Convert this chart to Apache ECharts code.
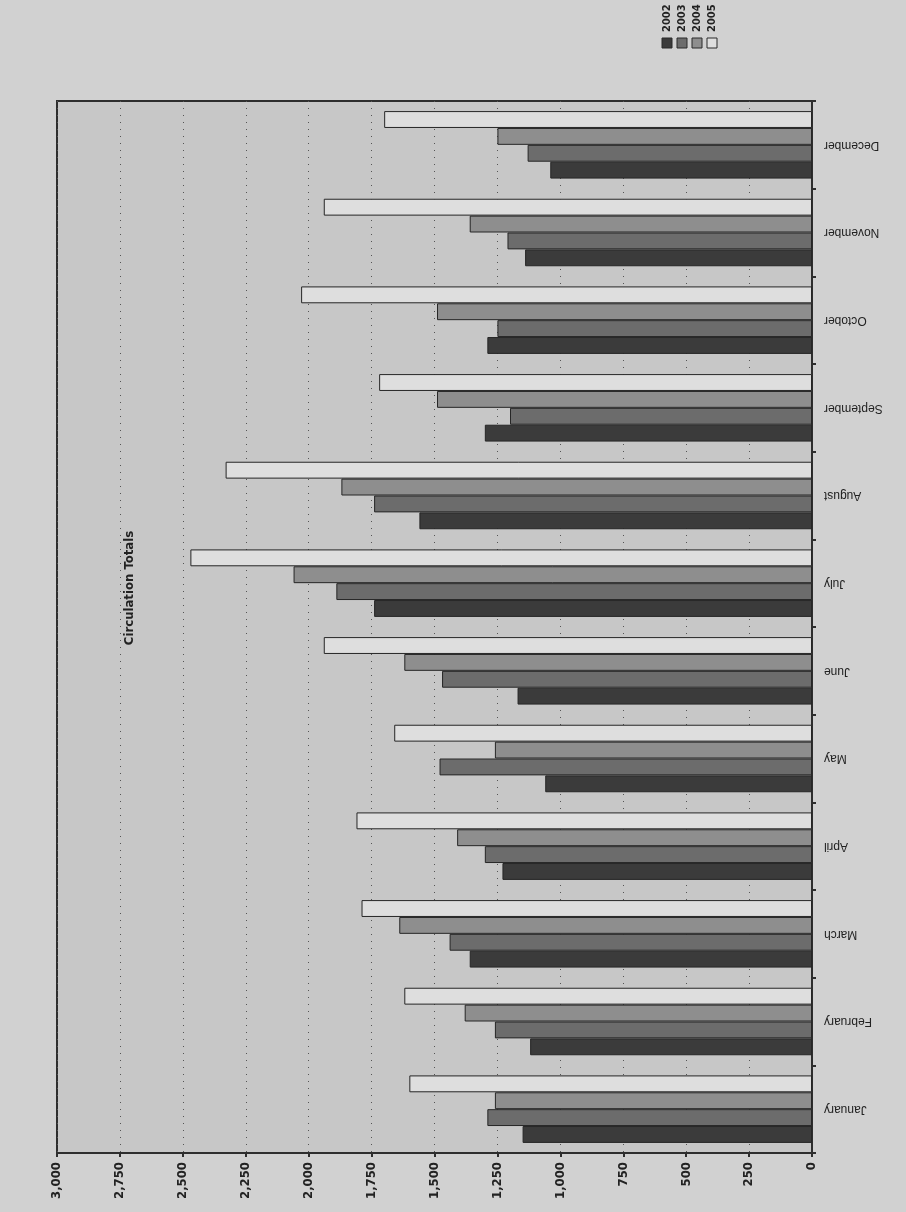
<!DOCTYPE html>
<html>
<head>
<meta charset="utf-8">
<title>Circulation Totals</title>
<script src="https://cdn.jsdelivr.net/npm/echarts@6/dist/echarts.min.js"></script>
<style>
  html, body { margin: 0; padding: 0; background: #d1d1d1; }
  #chart { width: 906px; height: 1212px; }
</style>
</head>
<body>
<div id="chart"></div>
<script>
// Monthly circulation totals, one series per year
const months = ['January', 'February', 'March', 'April', 'May', 'June',
                'July', 'August', 'September', 'October', 'November', 'December'];
const years = ['2002', '2003', '2004', '2005'];
const circ2002 = [1150, 1120, 1360, 1230, 1060, 1170, 1740, 1560, 1300, 1290, 1140, 1040];
const circ2003 = [1290, 1260, 1440, 1300, 1480, 1470, 1890, 1740, 1200, 1250, 1210, 1130];
const circ2004 = [1260, 1380, 1640, 1410, 1260, 1620, 2060, 1870, 1490, 1490, 1360, 1250];
const circ2005 = [1600, 1620, 1790, 1810, 1660, 1940, 2470, 2330, 1720, 2030, 1940, 1700];
const valueTicks = { min: 0, max: 3000, step: 250 };

const seriesData = [circ2002, circ2003, circ2004, circ2005];
const fills = ['#3b3b3b', '#6c6c6c', '#8e8e8e', '#dedede'];
const narrow = "'Liberation Sans Narrow', 'DejaVu Sans Condensed', sans-serif";

const chart = echarts.init(document.getElementById('chart'), null, { renderer: 'canvas' });

// Legend drawn as small rotated swatch/label columns above the plot
const legendItems = [];
years.forEach((y, i) => {
  const x = 662 + i * 15;
  legendItems.push({
    type: 'rect',
    shape: { x: x, y: 38, width: 10, height: 10 },
    style: { fill: fills[i], stroke: '#2a2a2a', lineWidth: 1 }
  });
  legendItems.push({
    type: 'text',
    x: x + 5, y: 32,
    rotation: Math.PI / 2,
    style: {
      text: y, fill: '#222', font: 'bold 11px ' + narrow,
      align: 'left', verticalAlign: 'middle'
    }
  });
});

// Bars stack upward within each month band, so the latest year is listed first
const barSeries = years.map((y, i) => ({
  name: y,
  type: 'bar',
  data: seriesData[i],
  barGap: '0%',
  barCategoryGap: '23%',
  itemStyle: { color: fills[i], borderColor: '#262626', borderWidth: 1 }
})).reverse();

chart.setOption({
  backgroundColor: '#d1d1d1',
  animation: false,
  grid: {
    left: 57, right: 94, top: 101, bottom: 59,
    show: true, backgroundColor: '#c7c7c7', borderColor: '#2e2e2e', borderWidth: 2
  },
  xAxis: {
    type: 'value',
    inverse: true,
    position: 'bottom',
    min: valueTicks.min, max: valueTicks.max, interval: valueTicks.step,
    axisLine: { show: true, lineStyle: { color: '#2e2e2e', width: 2 } },
    axisTick: { show: true, length: 4, lineStyle: { color: '#2e2e2e', width: 2 } },
    axisLabel: {
      rotate: 90, margin: 9, color: '#222',
      fontFamily: narrow, fontWeight: 'bold', fontSize: 13,
      formatter: v => v.toLocaleString('en-US')
    },
    splitLine: { show: true, lineStyle: { color: '#555', width: 1, type: [1, 6] } }
  },
  yAxis: {
    type: 'category',
    position: 'right',
    data: months,
    axisLine: { show: true, lineStyle: { color: '#2e2e2e', width: 2 } },
    axisTick: { show: true, length: 4, lineStyle: { color: '#2e2e2e', width: 2 } },
    axisLabel: {
      rotate: 180, margin: 12, color: '#222',
      fontFamily: 'Arial, "Liberation Sans", sans-serif', fontSize: 12
    },
    splitLine: { show: false }
  },
  series: barSeries,
  graphic: [
    {
      type: 'text',
      x: 130, y: 588,
      rotation: Math.PI / 2,
      style: {
        text: 'Circulation Totals', fill: '#222',
        font: 'bold 13px ' + narrow, align: 'center', verticalAlign: 'middle'
      }
    },
    ...legendItems
  ]
});
</script>
</body>
</html>
